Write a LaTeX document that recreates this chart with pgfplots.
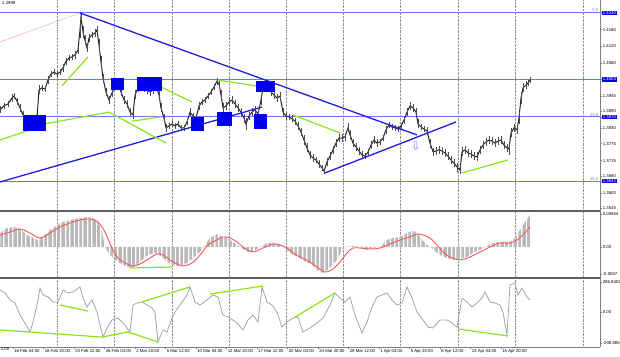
\documentclass[border=0pt]{standalone}
\usepackage{fontspec}
\setmainfont{Liberation Sans}
\newfontfamily\symfont{DejaVu Sans}
\usepackage{pgfplots}
\pgfplotsset{compat=1.18}
\usetikzlibrary{patterns.meta}
\definecolor{lvl}{RGB}{115,115,250}
\definecolor{arr}{RGB}{120,140,255}
\definecolor{trend}{RGB}{30,30,225}
\definecolor{boxblue}{RGB}{0,0,235}
\definecolor{grn}{RGB}{135,230,25}
\definecolor{sig}{RGB}{250,85,85}
\definecolor{cci}{RGB}{165,165,165}
\definecolor{sep}{RGB}{95,95,95}
\newcommand\tk{\fontsize{4.3}{5}\selectfont}
\pgfplotsset{
 panel/.style={scale only axis, width=600bp, xmin=0, xmax=600, enlargelimits=false,
  scaled y ticks=false, scaled x ticks=false,
  axis line style={draw=none}, xtick=\empty, ytick pos=right, yticklabel pos=right,
  tick align=outside, major tick length=2bp, tick style={gray, line width=0.4bp},
  yticklabel style={font=\tk, anchor=west, inner sep=0.6bp, text=black},
  extra x ticks={57,114,172,229,286,343,400,458,515,583}, extra x tick labels={},
  extra x tick style={grid=major, major tick length=0pt, major grid style={gray!85, densely dotted, line width=0.5bp}},
  anchor=north west},
}
\begin{document}
\begin{tikzpicture}
\path[use as bounding box] (0bp,0bp) rectangle (620bp,357bp);
% ---------------- price panel
\begin{axis}[panel, at={(0bp,357bp)}, height=210bp, ymin=1.35395, ymax=1.4285,
 ytick={1.4180,1.4120,1.4060,1.3945,1.3890,1.3830,1.3775,1.3715,1.3660,1.3600,1.3545},
 yticklabels={1.4180,1.4120,1.4060,1.3945,1.3890,1.3830,1.3775,1.3715,1.3660,1.3600,1.3545},
 extra y ticks={1.4240,1.4003,1.3870,1.3642},
 extra y tick labels={1.4240,1.4003,1.3870,1.3642},
 extra y tick style={yticklabel style={fill=boxblue, text=white}}]
\addplot[lvl, line width=1.2bp] coordinates {(0,1.4240) (600,1.4240)};
\addplot[lvl, line width=1.2bp] coordinates {(0,1.4003) (600,1.4003)};
\addplot[lvl, line width=1.2bp] coordinates {(0,1.3870) (600,1.3870)};
\addplot[lvl, line width=1.2bp] coordinates {(0,1.3642) (600,1.3642)};
\addplot[red!55, densely dotted, line width=0.7bp] coordinates {(0,1.4136) (80,1.4239)};
\addplot[black!85, line width=1.0bp, mark=none,
 error bars/.cd, y dir=both, y explicit, error mark=none,
 error bar style={black!70, line width=0.8bp}]
 table[x=x, y=c, y error=r] {
x c r
0 1.3895 0.0012
4 1.3909 0.0012
8 1.3916 0.0012
12 1.3937 0.0014
14 1.3944 0.0012
17 1.3926 0.0012
20 1.3902 0.0014
23 1.3877 0.0014
26 1.3866 0.0012
29 1.3845 0.0014
32 1.3852 0.0012
35 1.3859 0.0012
37 1.3866 0.0012
39 1.3966 0.0016
42 1.3973 0.0012
45 1.3969 0.0012
48 1.4001 0.0014
51 1.4022 0.0012
54 1.4029 0.0012
57 1.4022 0.0012
60 1.4029 0.0012
63 1.4044 0.0014
66 1.4068 0.0012
69 1.4079 0.0012
72 1.4083 0.0012
75 1.4090 0.0014
78 1.4108 0.0014
80 1.4179 0.0030
81 1.4225 0.0014
83 1.4171 0.0020
85 1.4143 0.0016
87 1.4115 0.0016
89 1.4150 0.0014
92 1.4161 0.0012
95 1.4168 0.0014
97 1.4179 0.0014
99 1.4125 0.0020
101 1.4065 0.0020
103 1.4008 0.0016
106 1.3958 0.0014
109 1.3930 0.0014
112 1.3955 0.0014
115 1.3980 0.0014
118 1.3990 0.0014
121 1.3958 0.0014
124 1.3930 0.0014
127 1.3916 0.0014
130 1.3887 0.0014
133 1.3877 0.0014
135 1.3948 0.0016
138 1.3973 0.0014
141 1.3983 0.0014
144 1.3973 0.0014
147 1.3966 0.0014
150 1.3958 0.0014
153 1.3966 0.0014
156 1.3980 0.0014
159 1.3948 0.0016
161 1.3902 0.0016
164 1.3866 0.0014
166 1.3831 0.0014
169 1.3838 0.0012
172 1.3845 0.0012
175 1.3838 0.0012
178 1.3845 0.0012
181 1.3831 0.0012
184 1.3831 0.0012
187 1.3852 0.0012
190 1.3887 0.0014
193 1.3873 0.0012
196 1.3866 0.0014
199 1.3909 0.0014
202 1.3923 0.0012
205 1.3930 0.0012
208 1.3944 0.0012
211 1.3958 0.0012
214 1.3976 0.0012
217 1.3997 0.0012
219 1.3987 0.0014
221 1.3948 0.0016
223 1.3902 0.0016
226 1.3909 0.0014
229 1.3923 0.0014
232 1.3930 0.0014
235 1.3916 0.0014
238 1.3902 0.0014
241 1.3887 0.0014
244 1.3866 0.0016
246 1.3845 0.0020
249 1.3873 0.0014
252 1.3887 0.0014
255 1.3895 0.0014
258 1.3880 0.0014
261 1.3930 0.0016
263 1.3973 0.0014
265 1.3987 0.0014
268 1.3973 0.0014
271 1.3958 0.0014
274 1.3948 0.0014
277 1.3937 0.0014
280 1.3944 0.0014
283 1.3887 0.0016
286 1.3873 0.0014
289 1.3870 0.0012
292 1.3863 0.0012
295 1.3855 0.0012
298 1.3838 0.0014
301 1.3816 0.0014
304 1.3788 0.0016
307 1.3760 0.0016
310 1.3735 0.0014
313 1.3724 0.0014
316 1.3717 0.0012
319 1.3703 0.0014
322 1.3689 0.0012
324 1.3678 0.0012
327 1.3710 0.0014
330 1.3731 0.0014
333 1.3753 0.0014
336 1.3777 0.0014
339 1.3795 0.0014
342 1.3795 0.0014
345 1.3799 0.0014
348 1.3831 0.0016
350 1.3806 0.0016
353 1.3777 0.0014
356 1.3763 0.0014
359 1.3749 0.0014
362 1.3735 0.0014
365 1.3731 0.0012
368 1.3745 0.0012
371 1.3770 0.0014
374 1.3788 0.0014
377 1.3777 0.0014
380 1.3781 0.0012
383 1.3795 0.0012
386 1.3824 0.0014
389 1.3841 0.0012
392 1.3834 0.0012
395 1.3831 0.0012
398 1.3827 0.0012
401 1.3838 0.0012
404 1.3859 0.0014
407 1.3887 0.0014
410 1.3909 0.0014
413 1.3902 0.0014
416 1.3887 0.0014
418 1.3845 0.0016
421 1.3834 0.0012
424 1.3827 0.0012
427 1.3820 0.0014
430 1.3777 0.0016
433 1.3746 0.0014
436 1.3749 0.0014
439 1.3753 0.0014
442 1.3749 0.0014
445 1.3742 0.0014
448 1.3731 0.0014
451 1.3717 0.0014
454 1.3706 0.0014
457 1.3692 0.0016
460 1.3682 0.0016
462 1.3746 0.0016
465 1.3753 0.0014
468 1.3742 0.0014
471 1.3738 0.0014
474 1.3731 0.0014
477 1.3728 0.0016
480 1.3753 0.0014
483 1.3770 0.0014
486 1.3781 0.0014
489 1.3788 0.0014
492 1.3784 0.0014
495 1.3777 0.0014
498 1.3784 0.0014
501 1.3788 0.0014
504 1.3770 0.0014
507 1.3760 0.0014
509 1.3756 0.0020
511 1.3813 0.0016
514 1.3831 0.0014
517 1.3824 0.0014
519 1.3866 0.0020
521 1.3937 0.0022
523 1.3973 0.0016
526 1.3983 0.0014
528 1.3990 0.0012
530 1.4001 0.0010
};
% trend lines
\addplot[trend, line width=1.3bp] coordinates {(80,1.4239) (417,1.3806)};
\addplot[trend, line width=1.3bp] coordinates {(0,1.3639) (262,1.3905)};
\addplot[trend, line width=1.3bp] coordinates {(325,1.3671) (456,1.3852)};
% green lines
\addplot[grn, line width=1.2bp] coordinates {(0,1.3788) (30,1.3824)};
\addplot[grn, line width=1.2bp] coordinates {(38,1.3841) (109,1.3887)};
\addplot[grn, line width=1.2bp] coordinates {(62,1.3980) (88,1.4083)};
\addplot[grn, line width=1.2bp] coordinates {(109,1.3887) (166,1.3777)};
\addplot[grn, line width=1.2bp] coordinates {(132,1.3855) (161,1.3870)};
\addplot[grn, line width=1.2bp] coordinates {(142,1.4008) (192,1.3923)};
\addplot[grn, line width=1.2bp] coordinates {(218,1.4001) (263,1.3976)};
\addplot[grn, line width=1.2bp] coordinates {(293,1.3877) (340,1.3813)};
\addplot[grn, line width=1.2bp] coordinates {(462,1.3671) (508,1.3717)};
% blue boxes
\addplot[fill=boxblue, draw=none] coordinates {(23,1.3877) (46,1.3877) (46,1.3820) (23,1.3820)} -- cycle;
\addplot[fill=boxblue, draw=none] coordinates {(111,1.4008) (124,1.4008) (124,1.3966) (111,1.3966)} -- cycle;
\addplot[fill=boxblue, draw=none] coordinates {(137,1.4012) (162,1.4012) (162,1.3962) (137,1.3962)} -- cycle;
\addplot[fill=boxblue, draw=none] coordinates {(191,1.3870) (204,1.3870) (204,1.3820) (191,1.3820)} -- cycle;
\addplot[fill=boxblue, draw=none] coordinates {(217,1.3887) (232,1.3887) (232,1.3838) (217,1.3838)} -- cycle;
\addplot[fill=boxblue, draw=none] coordinates {(254,1.3880) (267,1.3880) (267,1.3827) (254,1.3827)} -- cycle;
\addplot[fill=boxblue, draw=none] coordinates {(256,1.3997) (275,1.3997) (275,1.3958) (256,1.3958)} -- cycle;
\node[text=arr, font=\symfont\fontsize{12}{12}\selectfont, inner sep=0pt] at (axis cs:416,1.3765) {⇩};
\node[text=lvl, font=\tk, anchor=south east, inner sep=0.5bp] at (axis cs:599,1.4240) {0.0};
\node[text=lvl, font=\tk, anchor=south east, inner sep=0.5bp] at (axis cs:599,1.3870) {23.6};
\node[text=lvl, font=\tk, anchor=south east, inner sep=0.5bp] at (axis cs:599,1.3642) {38.2};
\node[font=\tk, anchor=north west, inner sep=1bp] at (axis cs:1,1.4283) {1.2999};
\end{axis}
% ---------------- MACD panel
\begin{axis}[panel, at={(0bp,145bp)}, height=66bp, ymin=-0.0062, ymax=0.0070,
 ytick={0.0066,0,-0.0054}, yticklabels={0.00664,0.00,-0.0057}]
\addplot[draw=none, pattern={Lines[angle=90,distance=1.3pt,line width=0.7pt]}, pattern color=gray!55] coordinates {
(0,0) (0,0.0028) (7,0.0038) (13,0.0040) (20,0.0036) (27,0.0024) (33,0.0018) (38,0.0014)
(43,0.0020) (50,0.0034) (57,0.0044) (63,0.0050) (70,0.0054) (80,0.0058) (87,0.0060)
(93,0.0058) (98,0.0050) (102,0.0030) (105,0) (110,-0.0016) (115,-0.0026) (120,-0.0032)
(127,-0.0040) (132,-0.0042) (137,-0.0036) (142,-0.0026) (148,-0.0016) (155,-0.0012)
(162,-0.0020) (167,-0.0030) (173,-0.0036) (180,-0.0038) (187,-0.0032) (193,-0.0022)
(200,-0.0010) (205,0.0004) (210,0.0018) (217,0.0026) (222,0.0020) (227,0.0018)
(233,0.0010) (240,0) (247,-0.0010) (253,-0.0010) (260,0) (267,0.0008) (273,0.0008)
(280,0.0004) (287,-0.0006) (293,-0.0016) (300,-0.0022) (307,-0.0032) (310,-0.0032)
(317,-0.0046) (323,-0.0052) (330,-0.0042) (337,-0.0026) (342,-0.0006) (345,0)
(353,0.0002) (360,0) (367,-0.0006) (373,-0.0002) (380,0) (387,0.0014) (393,0.0018)
(400,0.0020) (407,0.0028) (412,0.0032) (417,0.0030) (422,0.0014) (427,0.0004) (430,0)
(440,-0.0016) (447,-0.0022) (453,-0.0026) (460,-0.0024) (467,-0.0020) (473,-0.0012)
(480,-0.0006) (485,0) (490,0.0006) (497,0.0010) (503,0.0010) (510,0.0010) (515,0.0018)
(520,0.0034) (525,0.0050) (530,0.0064) (530,0)} -- cycle;
\addplot[sig, line width=0.9bp, smooth] coordinates {
(0,0.0024) (10,0.0030) (20,0.0036) (30,0.0028) (40,0.0018) (50,0.0028) (60,0.0040)
(70,0.0048) (80,0.0054) (90,0.0056) (98,0.0050) (105,0.0030) (112,-0.0002) (118,-0.0022)
(127,-0.0034) (133,-0.0038) (140,-0.0034) (150,-0.0022) (157,-0.0014) (163,-0.0016)
(170,-0.0026) (177,-0.0034) (183,-0.0038) (192,-0.0032) (200,-0.0016) (208,0.0004)
(217,0.0014) (223,0.0020) (230,0.0018) (237,0.0010) (243,0) (253,-0.0010) (263,-0.0002)
(273,0.0006) (280,0.0004) (287,-0.0002) (293,-0.0012) (300,-0.0020) (310,-0.0030)
(317,-0.0040) (325,-0.0050) (333,-0.0044) (340,-0.0030) (347,-0.0012) (353,-0.0002)
(360,-0.0002) (370,-0.0004) (380,-0.0002) (390,0.0006) (400,0.0014) (410,0.0020)
(417,0.0026) (423,0.0024) (430,0.0018) (437,0.0004) (443,-0.0010) (450,-0.0020)
(460,-0.0026) (470,-0.0020) (480,-0.0010) (490,0) (500,0.0008) (510,0.0008)
(517,0.0014) (523,0.0024) (530,0.0040)};
\addplot[grn, line width=1.2bp] coordinates {(130,-0.0042) (172,-0.0040)};
\end{axis}
% ---------------- CCI panel
\begin{axis}[panel, at={(0bp,78bp)}, height=68bp, ymin=-255.5, ymax=240.9,
 ytick={219,0,-226}, yticklabels={286.9402,0.00,-208.885},
 xtick={13,43.5,74,104.5,135,165.5,196,226.5,257,287.5,318,348.5,379,409.5,440,470.5,501},
 xticklabels={16 Feb 04:00,18 Feb 20:00,23 Feb 12:00,26 Feb 04:00,2 Mar 20:00,5 Mar 12:00,10 Mar 04:00,12 Mar 20:00,17 Mar 12:00,22 Mar 04:00,24 Mar 20:00,29 Mar 12:00,1 Apr 04:00,5 Apr 20:00,8 Apr 12:00,13 Apr 04:00,15 Apr 20:00},
 xtick pos=left, xticklabel pos=left,
 xticklabel style={font=\tk, anchor=north west, inner sep=0.6bp, xshift=0.5bp, text=black}]
\addplot[cci, line width=0.8bp] coordinates {
(0,161) (5,139) (10,88) (15,66) (20,-22) (25,-80) (30,-146) (33,-73) (37,51) (40,175)
(43,124) (48,110) (53,73) (58,73) (63,161) (68,139) (73,146) (80,183) (83,102) (87,37)
(92,88) (97,0) (100,-95) (103,-183) (107,-117) (112,-58) (118,-44) (125,-95) (130,-146)
(133,51) (137,66) (142,73) (147,51) (152,29) (155,0) (158,-219) (163,-131) (167,-146)
(172,-44) (175,0) (180,51) (187,124) (190,183) (195,73) (200,51) (207,88) (213,124)
(218,110) (223,-22) (230,-44) (237,-80) (243,-131) (248,-58) (253,-22) (258,-73)
(262,183) (267,73) (272,51) (277,0) (282,-110) (287,-73) (293,-44) (298,-37) (303,-146)
(310,-117) (317,-80) (323,-44) (330,51) (335,139) (340,102) (345,73) (350,110) (355,-22)
(362,-153) (367,-73) (372,37) (377,110) (382,124) (387,139) (392,88) (397,51) (402,66)
(407,183) (412,102) (417,0) (423,-58) (428,-110) (433,-117) (440,-58) (447,-58)
(452,-80) (457,-110) (462,102) (467,73) (472,37) (477,66) (482,102) (485,146) (490,73)
(495,66) (500,51) (503,0) (507,-168) (510,197) (515,212) (518,124) (522,175) (527,110)
(530,88)};
\addplot[grn, line width=1.2bp] coordinates {(0,-131) (102,-183) (128,-146) (158,-219)};
\addplot[grn, line width=1.2bp] coordinates {(60,51) (88,7)};
\addplot[grn, line width=1.2bp] coordinates {(142,73) (190,183)};
\addplot[grn, line width=1.2bp] coordinates {(210,131) (263,190)};
\addplot[grn, line width=1.2bp] coordinates {(295,-37) (335,139)};
\addplot[grn, line width=1.2bp] coordinates {(458,-124) (508,-175)};
\end{axis}
% frame lines
\draw[sep, line width=2bp] (0bp,146bp) -- (600bp,146bp);
\draw[sep, line width=2bp] (0bp,79bp) -- (600bp,79bp);
\draw[gray, line width=0.6bp] (0bp,10bp) -- (600bp,10bp);
\draw[gray, line width=0.6bp] (600bp,10bp) -- (600bp,357bp);
\node[font=\tk, anchor=north west, inner sep=0.6bp] at (0bp,10bp) {2:00};
\end{tikzpicture}
\end{document}
